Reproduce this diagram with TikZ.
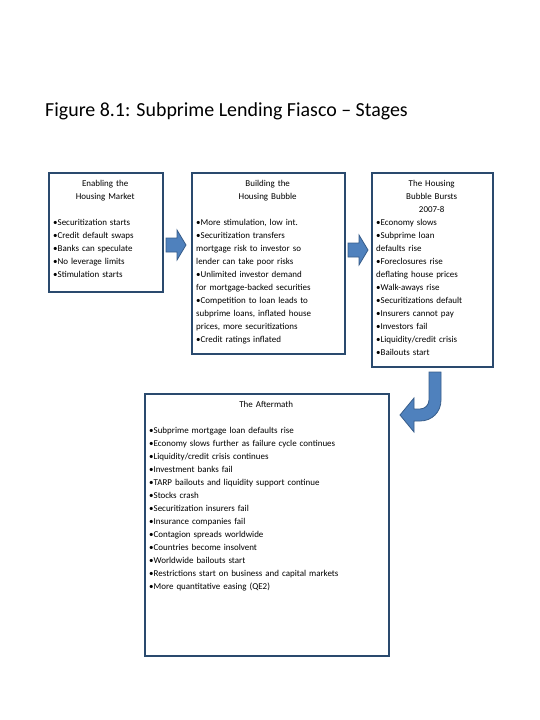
\documentclass[tikz,border=0pt]{standalone}
\usepackage{fontspec}
\setmainfont{Carlito}
\definecolor{boxblue}{HTML}{2A4A6E}
\definecolor{arrowfill}{HTML}{4F81BD}
\definecolor{arrowline}{HTML}{385D8A}
\begin{document}
\begin{tikzpicture}[x=1bp,y=-1bp,
  stagebox/.style={draw=boxblue, line width=1.6bp, rectangle, anchor=north west, inner sep=0pt},
  boxtext/.style={anchor=base west, inner sep=0pt, text width=#1, align=left,
                  font=\fontsize{9}{13.1}\selectfont},
  blockarrow/.style={fill=arrowfill, draw=arrowline, line width=0.8bp, line join=miter}]
\useasboundingbox (0,0) rectangle (540,720);

\node[anchor=base west, inner sep=0pt, font=\fontsize{20}{22}\selectfont] (title) at (45,117)
  {Figure 8.1: Subprime Lending Fiasco – Stages};

% Stage boxes
\node[stagebox, minimum width=114bp, minimum height=119bp] (b1) at (48,172) {};
\node[stagebox, minimum width=153bp, minimum height=181bp] (b2) at (191,172) {};
\node[stagebox, minimum width=121bp, minimum height=194bp] (b3) at (371,172) {};
\node[stagebox, minimum width=244bp, minimum height=262bp] (b4) at (144,393) {};

% Texts
\node[boxtext=104bp] (t1) at (53,186) {\centering Enabling the\\Housing Market\par\vspace{13.1bp}\raggedright
•Securitization starts\\
•Credit default swaps\\
•Banks can speculate\\
•No leverage limits\\
•Stimulation starts};

\node[boxtext=143bp] (t2) at (196,186) {\centering Building the\\Housing Bubble\par\vspace{13.1bp}\raggedright
•More stimulation, low int.\\
•Securitization transfers\\
mortgage risk to investor so\\
lender can take poor risks\\
•Unlimited investor demand\\
for mortgage-backed securities\\
•Competition to loan leads to\\
subprime loans, inflated house\\
prices, more securitizations\\
•Credit ratings inflated};

\node[boxtext=111bp] (t3) at (376,186) {\centering The Housing\\Bubble Bursts\\2007-8\par\raggedright
•Economy slows\\
•Subprime loan\\
defaults rise\\
•Foreclosures rise\\
deflating house prices\\
•Walk-aways rise\\
•Securitizations default\\
•Insurers cannot pay\\
•Investors fail\\
•Liquidity/credit crisis\\
•Bailouts start};

\node[boxtext=234bp] (t4) at (149,407) {\centering The Aftermath\par\vspace{13.1bp}\raggedright
•Subprime mortgage loan defaults rise\\
•Economy slows further as failure cycle continues\\
•Liquidity/credit crisis continues\\
•Investment banks fail\\
•TARP bailouts and liquidity support continue\\
•Stocks crash\\
•Securitization insurers fail\\
•Insurance companies fail\\
•Contagion spreads worldwide\\
•Countries become insolvent\\
•Worldwide bailouts start\\
•Restrictions start on business and capital markets\\
•More quantitative easing (QE2)};

% Block arrows
\draw[blockarrow] (166,238) -- (177,238) -- (177,230) -- (186,245) -- (177,260) -- (177,252) -- (166,252) -- cycle;
\draw[blockarrow] (348,243) -- (359,243) -- (359,235) -- (368,250) -- (359,265) -- (359,257) -- (348,257) -- cycle;

% Curved (J) arrow
\draw[blockarrow] (429,372) -- (441,372) -- (441,400)
  .. controls (441,412) and (432,421) .. (420,421) -- (414,421) -- (414,432) -- (400,415)
  -- (414,398) -- (414,409) -- (420,409)
  .. controls (425,409) and (429,405) .. (429,400) -- cycle;
\end{tikzpicture}
\end{document}
